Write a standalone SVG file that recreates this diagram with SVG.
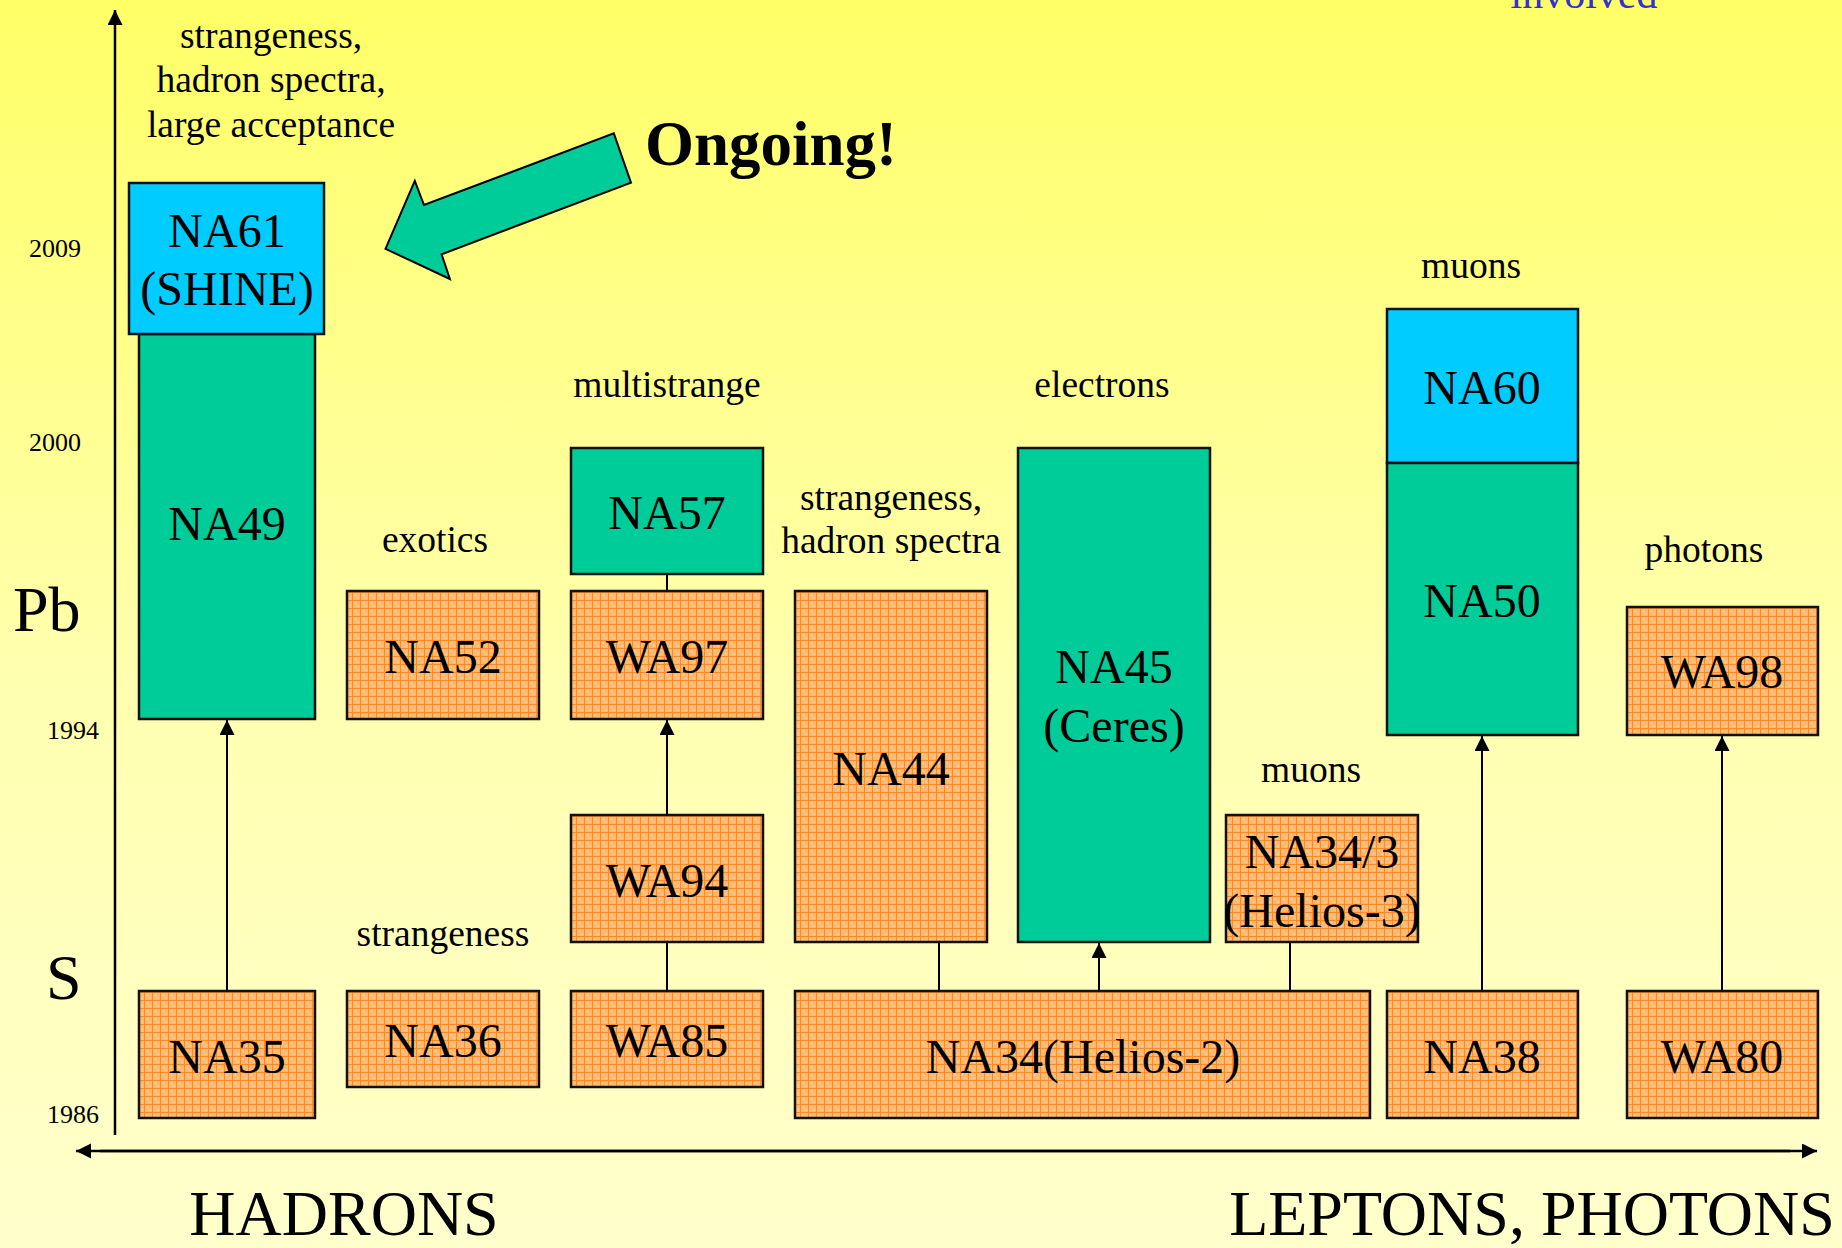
<svg xmlns="http://www.w3.org/2000/svg" width="1842" height="1248" viewBox="0 0 1842 1248">
<defs>
  <linearGradient id="bg" x1="0" y1="0" x2="0" y2="1">
    <stop offset="0" stop-color="#FFFF66"/>
    <stop offset="0.55" stop-color="#FFFFB0"/>
    <stop offset="1" stop-color="#FFFFCC"/>
  </linearGradient>
  <pattern id="grid" patternUnits="userSpaceOnUse" width="8" height="8">
    <rect width="8" height="8" fill="#FFB870"/>
    <rect x="2" y="2" width="2" height="2" fill="#FFC78A"/>
    <rect x="5" y="5" width="2" height="2" fill="#FFC78A"/>
    <rect x="0" y="0" width="8" height="1" fill="#FF8A24"/>
    <rect x="0" y="0" width="1" height="8" fill="#FF8A24"/>
  </pattern>
  <marker id="ah" markerUnits="userSpaceOnUse" markerWidth="16" markerHeight="16" refX="15" refY="7.5" orient="auto">
    <path d="M0,0 L15,7.5 L0,15 z" fill="#000"/>
  </marker>
</defs>
<style>
  .t{font-family:"Liberation Serif","Times New Roman",serif;fill:#000;text-anchor:middle}
  .lbl{font-size:48px}
  .cat{font-size:37.5px}
  .yr{font-size:26px;font-family:"Liberation Serif","Times New Roman",serif;fill:#000}
  .big{font-size:64px;font-family:"Liberation Serif","Times New Roman",serif;fill:#000}
  .or{fill:url(#grid);stroke:#111;stroke-width:2.5}
  .gr{fill:#00CC99;stroke:#111;stroke-width:2.5}
  .bl{fill:#00CCFF;stroke:#111;stroke-width:2.5}
  .cn{stroke:#000;stroke-width:2;fill:none}
  .ax{stroke:#000;stroke-width:2.5;fill:none}
</style>
<rect width="1842" height="1248" fill="url(#bg)"/>

<text x="1584" y="8" class="t" style="font-size:42px;fill:#3333CC">involved</text>

<g id="axes">
  <line x1="115" y1="1135" x2="115" y2="10" class="ax" marker-end="url(#ah)"/>
  <line x1="100" y1="1151" x2="1817" y2="1151" class="ax" marker-end="url(#ah)"/>
  <line x1="1790" y1="1151" x2="76" y2="1151" class="ax" marker-end="url(#ah)"/>
</g>

<g id="axis-labels">
  <text x="29" y="257" class="yr">2009</text>
  <text x="29" y="451" class="yr">2000</text>
  <text x="47" y="739" class="yr">1994</text>
  <text x="47" y="1123" class="yr">1986</text>
  <text x="13" y="631" class="big">Pb</text>
  <text x="46" y="999" class="big">S</text>
  <text x="344" y="1235" class="big" style="text-anchor:middle">HADRONS</text>
  <text x="1532" y="1235" class="big" style="text-anchor:middle">LEPTONS, PHOTONS</text>
</g>

<g id="category-labels">
  <text class="t cat" x="271" y="48">strangeness,</text>
  <text class="t cat" x="271" y="92">hadron spectra,</text>
  <text class="t cat" x="271" y="137">large acceptance</text>
  <text class="t cat" x="667" y="397">multistrange</text>
  <text class="t cat" x="435" y="552">exotics</text>
  <text class="t cat" x="891" y="510">strangeness,</text>
  <text class="t cat" x="891" y="553">hadron spectra</text>
  <text class="t cat" x="1102" y="397">electrons</text>
  <text class="t cat" x="1471" y="278">muons</text>
  <text class="t cat" x="1704" y="562">photons</text>
  <text class="t cat" x="1311" y="782">muons</text>
  <text class="t cat" x="443" y="946">strangeness</text>
</g>

<g id="ongoing">
  <polygon points="385.5,248.8 414.8,180.9 424,205 613.8,133.4 631,182.6 441.6,254.3 449.9,279" fill="#00CC99" stroke="#000" stroke-width="2"/>
  <text x="645" y="165" style="font-family:'Liberation Serif','Times New Roman',serif;font-size:63px;font-weight:bold;fill:#000">Ongoing!</text>
</g>

<g id="connectors">
  <line x1="227" y1="991" x2="227" y2="720" class="cn" marker-end="url(#ah)"/>
  <line x1="667" y1="991" x2="667" y2="942" class="cn"/>
  <line x1="667" y1="815" x2="667" y2="720" class="cn" marker-end="url(#ah)"/>
  <line x1="667" y1="591" x2="667" y2="574" class="cn"/>
  <line x1="939" y1="991" x2="939" y2="942" class="cn"/>
  <line x1="1099" y1="991" x2="1099" y2="943" class="cn" marker-end="url(#ah)"/>
  <line x1="1290" y1="991" x2="1290" y2="942" class="cn"/>
  <line x1="1482" y1="991" x2="1482" y2="736" class="cn" marker-end="url(#ah)"/>
  <line x1="1722" y1="991" x2="1722" y2="736" class="cn" marker-end="url(#ah)"/>
</g>

<g id="NA49"><rect class="gr" x="139" y="334" width="176" height="385"/><text class="t lbl" x="227" y="540">NA49</text></g>
<g id="NA61"><rect class="bl" x="129" y="183" width="195" height="151"/><text class="t lbl" x="227" y="247">NA61</text><text class="t lbl" x="227" y="305">(SHINE)</text></g>
<g id="NA35"><rect class="or" x="139" y="991" width="176" height="127"/><text class="t lbl" x="227" y="1073">NA35</text></g>
<g id="NA52"><rect class="or" x="347" y="591" width="192" height="128"/><text class="t lbl" x="443" y="673">NA52</text></g>
<g id="NA36"><rect class="or" x="347" y="991" width="192" height="96"/><text class="t lbl" x="443" y="1057">NA36</text></g>
<g id="NA57"><rect class="gr" x="571" y="448" width="192" height="126"/><text class="t lbl" x="667" y="529">NA57</text></g>
<g id="WA97"><rect class="or" x="571" y="591" width="192" height="128"/><text class="t lbl" x="667" y="673">WA97</text></g>
<g id="WA94"><rect class="or" x="571" y="815" width="192" height="127"/><text class="t lbl" x="667" y="897">WA94</text></g>
<g id="WA85"><rect class="or" x="571" y="991" width="192" height="96"/><text class="t lbl" x="667" y="1057">WA85</text></g>
<g id="NA44"><rect class="or" x="795" y="591" width="192" height="351"/><text class="t lbl" x="891" y="785">NA44</text></g>
<g id="NA45"><rect class="gr" x="1018" y="448" width="192" height="494"/><text class="t lbl" x="1114" y="683">NA45</text><text class="t lbl" x="1114" y="742">(Ceres)</text></g>
<g id="NA34-3"><rect class="or" x="1226" y="815" width="192" height="127"/><text class="t lbl" x="1322" y="868">NA34/3</text><text class="t lbl" x="1322" y="927">(Helios-3)</text></g>
<g id="NA34"><rect class="or" x="795" y="991" width="575" height="127"/><text class="t lbl" x="1083" y="1073">NA34(Helios-2)</text></g>
<g id="NA60"><rect class="bl" x="1387" y="309" width="191" height="154"/><text class="t lbl" x="1482" y="404">NA60</text></g>
<g id="NA50"><rect class="gr" x="1387" y="463" width="191" height="272"/><text class="t lbl" x="1482" y="617">NA50</text></g>
<g id="NA38"><rect class="or" x="1387" y="991" width="191" height="127"/><text class="t lbl" x="1482" y="1073">NA38</text></g>
<g id="WA98"><rect class="or" x="1627" y="607" width="191" height="128"/><text class="t lbl" x="1722" y="688">WA98</text></g>
<g id="WA80"><rect class="or" x="1627" y="991" width="191" height="127"/><text class="t lbl" x="1722" y="1073">WA80</text></g>
</svg>
